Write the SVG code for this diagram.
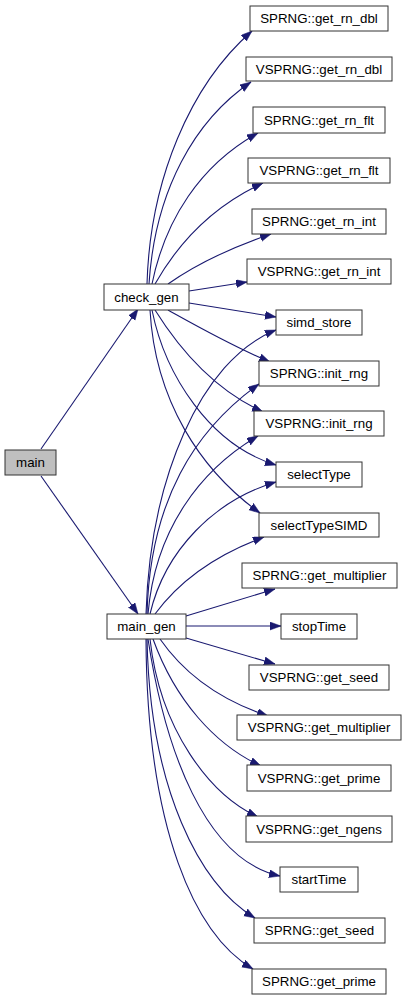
<svg xmlns="http://www.w3.org/2000/svg" width="407" height="1000" viewBox="0 0 407 1000">
<style>
.n rect{fill:#fff;stroke:#333;stroke-width:1}
.n text{font-family:"Liberation Sans",Arial,sans-serif;font-size:13.3px;text-anchor:middle;fill:#000}
#main rect{fill:#bfbfbf}
.e path{fill:none;stroke:#191970;stroke-width:1.1;marker-end:url(#ah)}
</style>
<defs>
<marker id="ah" markerUnits="userSpaceOnUse" markerWidth="12" markerHeight="9" refX="11" refY="4" orient="auto">
<path d="M0,0 L11,4 L0,8 z" fill="#191970" stroke="#191970" stroke-width="0.5"/>
</marker>
</defs>
<g class="e" id="edges">
<path d="M41,449 L138,309"/>
<path d="M41,476 L138,614"/>
<path d="M147,284 C150,180 190,85 252,31"/>
<path d="M149,284 C155,190 195,120 251,82"/>
<path d="M152,284 C165,220 200,165 258,133"/>
<path d="M155,284 C180,240 215,205 263,183"/>
<path d="M168,284 C195,265 230,248 271,234"/>
<path d="M189,291 L247,282"/>
<path d="M189,303 L276,317"/>
<path d="M168,310 C195,325 230,345 270,362"/>
<path d="M155,310 C180,350 215,390 263,412"/>
<path d="M152,310 C165,375 210,445 276,465"/>
<path d="M150,310 C155,400 200,470 260,513"/>
<path d="M146,614 C150,480 200,360 276,330"/>
<path d="M147,614 C150,500 195,430 259,384"/>
<path d="M148,614 C155,530 200,470 258,436"/>
<path d="M150,614 C165,550 215,500 276,482"/>
<path d="M155,614 C180,580 215,555 264,537"/>
<path d="M186,616 L275,589"/>
<path d="M186,626 L281,626"/>
<path d="M186,638 L275,664"/>
<path d="M160,639 C185,675 220,700 268,716"/>
<path d="M153,639 C175,700 215,745 261,766"/>
<path d="M150,639 C160,730 210,795 258,817"/>
<path d="M148,639 C165,750 205,860 280,876"/>
<path d="M147,639 C150,790 200,885 255,918"/>
<path d="M146,639 C147,830 195,935 253,969"/>
</g>
<g class="n" id="main"><rect x="5" y="450" width="51" height="25"/><text x="30.5" y="467">main</text></g>
<g class="n" id="check_gen"><rect x="104" y="284" width="85" height="26"/><text x="146.5" y="302">check_gen</text></g>
<g class="n" id="main_gen"><rect x="107" y="614" width="79" height="25"/><text x="146.5" y="631">main_gen</text></g>
<g class="n" id="n1"><rect x="250" y="6" width="138" height="25"/><text x="319" y="23">SPRNG::get_rn_dbl</text></g>
<g class="n" id="n2"><rect x="246" y="57" width="146" height="24"/><text x="319" y="74">VSPRNG::get_rn_dbl</text></g>
<g class="n" id="n3"><rect x="253" y="107" width="132" height="26"/><text x="319" y="125">SPRNG::get_rn_flt</text></g>
<g class="n" id="n4"><rect x="248" y="158" width="142" height="25"/><text x="319" y="175">VSPRNG::get_rn_flt</text></g>
<g class="n" id="n5"><rect x="252" y="209" width="134" height="25"/><text x="319" y="226">SPRNG::get_rn_int</text></g>
<g class="n" id="n6"><rect x="247" y="259" width="144" height="25"/><text x="319" y="276">VSPRNG::get_rn_int</text></g>
<g class="n" id="n7"><rect x="276" y="310" width="86" height="25"/><text x="319" y="327">simd_store</text></g>
<g class="n" id="n8"><rect x="259" y="361" width="120" height="25"/><text x="319" y="378">SPRNG::init_rng</text></g>
<g class="n" id="n9"><rect x="254" y="411" width="130" height="25"/><text x="319" y="428">VSPRNG::init_rng</text></g>
<g class="n" id="n10"><rect x="276" y="462" width="86" height="25"/><text x="319" y="479">selectType</text></g>
<g class="n" id="n11"><rect x="259" y="513" width="120" height="24"/><text x="319" y="530">selectTypeSIMD</text></g>
<g class="n" id="n12"><rect x="242" y="563" width="155" height="25"/><text x="319.5" y="580">SPRNG::get_multiplier</text></g>
<g class="n" id="n13"><rect x="281" y="614" width="76" height="25"/><text x="319" y="631">stopTime</text></g>
<g class="n" id="n14"><rect x="249" y="665" width="140" height="25"/><text x="319" y="682">VSPRNG::get_seed</text></g>
<g class="n" id="n15"><rect x="237" y="715" width="164" height="25"/><text x="319" y="732">VSPRNG::get_multiplier</text></g>
<g class="n" id="n16"><rect x="247" y="765" width="144" height="26"/><text x="319" y="783">VSPRNG::get_prime</text></g>
<g class="n" id="n17"><rect x="246" y="816" width="146" height="26"/><text x="319" y="834">VSPRNG::get_ngens</text></g>
<g class="n" id="n18"><rect x="280" y="867" width="78" height="25"/><text x="319" y="884">startTime</text></g>
<g class="n" id="n19"><rect x="254" y="918" width="131" height="25"/><text x="319.5" y="935">SPRNG::get_seed</text></g>
<g class="n" id="n20"><rect x="252" y="969" width="134" height="25"/><text x="319" y="986">SPRNG::get_prime</text></g>
</svg>
